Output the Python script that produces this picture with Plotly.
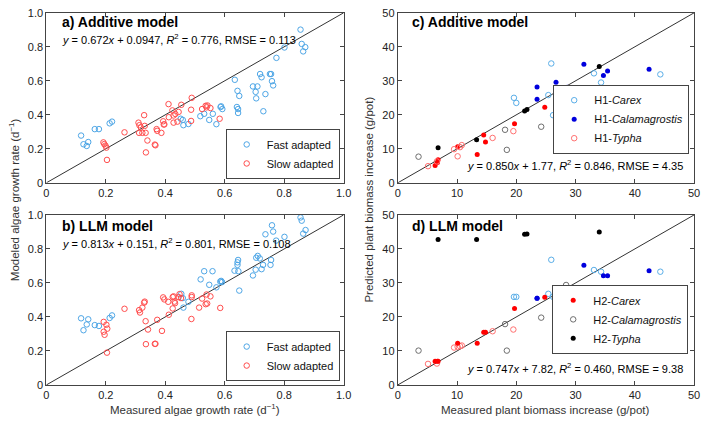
import plotly.graph_objects as go

# ---------------- Data: panels a/b (algae growth rate, d^-1) ----------------
a_fast_x = [0.117, 0.125, 0.136, 0.141, 0.163, 0.177, 0.213, 0.221, 0.452, 0.459, 0.461, 0.478,
            0.518, 0.531, 0.548, 0.560, 0.572, 0.586, 0.588, 0.592, 0.634, 0.643, 0.649, 0.641,
            0.645, 0.645, 0.695, 0.710, 0.704, 0.706, 0.719, 0.724, 0.730, 0.737, 0.752, 0.756,
            0.759, 0.763, 0.774, 0.801, 0.855, 0.859, 0.864, 0.871]
a_fast_y = [0.278, 0.227, 0.217, 0.240, 0.316, 0.316, 0.350, 0.360, 0.377, 0.370, 0.339, 0.346,
            0.392, 0.406, 0.370, 0.406, 0.345, 0.446, 0.450, 0.434, 0.606, 0.541, 0.511, 0.446,
            0.434, 0.411, 0.567, 0.567, 0.535, 0.497, 0.640, 0.621, 0.421, 0.522, 0.640, 0.640,
            0.598, 0.573, 0.735, 0.796, 0.901, 0.817, 0.773, 0.798]
a_slow_x = [0.192, 0.195, 0.199, 0.202, 0.204, 0.263, 0.310, 0.313, 0.318, 0.312, 0.323, 0.329,
            0.331, 0.334, 0.335, 0.340, 0.365, 0.367, 0.371, 0.373, 0.387, 0.393, 0.395, 0.397,
            0.411, 0.412, 0.424, 0.428, 0.428, 0.434, 0.441, 0.445, 0.454, 0.487, 0.489, 0.487,
            0.524, 0.536, 0.539, 0.542, 0.552, 0.583]
a_slow_y = [0.238, 0.228, 0.219, 0.207, 0.135, 0.297, 0.354, 0.339, 0.326, 0.294, 0.294, 0.398,
            0.335, 0.294, 0.179, 0.249, 0.225, 0.221, 0.316, 0.306, 0.294, 0.362, 0.343, 0.344,
            0.463, 0.386, 0.426, 0.396, 0.354, 0.405, 0.360, 0.417, 0.459, 0.430, 0.500, 0.364,
            0.434, 0.453, 0.444, 0.455, 0.440, 0.377]

b_fast_x = [0.117, 0.125, 0.136, 0.141, 0.163, 0.177, 0.213, 0.221, 0.454, 0.459, 0.461, 0.478,
            0.519, 0.531, 0.548, 0.559, 0.572, 0.585, 0.588, 0.591, 0.633, 0.643, 0.643, 0.645,
            0.646, 0.649, 0.695, 0.704, 0.706, 0.711, 0.718, 0.724, 0.729, 0.737, 0.754, 0.756,
            0.759, 0.763, 0.773, 0.801, 0.855, 0.859, 0.864, 0.872]
b_fast_y = [0.392, 0.322, 0.356, 0.386, 0.352, 0.347, 0.394, 0.409, 0.536, 0.511, 0.455, 0.489,
            0.621, 0.669, 0.589, 0.669, 0.574, 0.608, 0.612, 0.605, 0.672, 0.706, 0.721, 0.735,
            0.669, 0.555, 0.644, 0.678, 0.748, 0.759, 0.744, 0.681, 0.706, 0.886, 0.706, 0.735,
            0.939, 0.902, 0.849, 0.871, 0.985, 0.966, 0.890, 0.911]
b_slow_x = [0.193, 0.202, 0.205, 0.193, 0.196, 0.204, 0.263, 0.312, 0.315, 0.323, 0.329, 0.331,
            0.334, 0.342, 0.335, 0.365, 0.367, 0.373, 0.389, 0.393, 0.397, 0.412, 0.410, 0.425,
            0.425, 0.428, 0.431, 0.433, 0.445, 0.448, 0.453, 0.489, 0.489, 0.488, 0.514, 0.524,
            0.539, 0.536, 0.541, 0.552, 0.585]
b_slow_y = [0.371, 0.354, 0.331, 0.313, 0.295, 0.190, 0.448, 0.440, 0.426, 0.455, 0.484, 0.490,
            0.375, 0.326, 0.240, 0.242, 0.242, 0.383, 0.318, 0.515, 0.503, 0.413, 0.489, 0.517,
            0.450, 0.521, 0.490, 0.481, 0.517, 0.534, 0.511, 0.517, 0.527, 0.388, 0.455, 0.508,
            0.532, 0.475, 0.479, 0.521, 0.453]

# ---------------- Data: panels c/d (plant biomass increase, g/pot) ----------------
h1_carex_x = [19.6, 20.0, 25.4, 25.9, 26.2, 33.1, 34.3, 34.6, 44.3]
h1_carex_c = [25.0, 23.5, 25.8, 35.1, 19.9, 32.2, 29.5, 24.0, 31.9]
h1_carex_d = [25.9, 25.9, 26.8, 36.8, 25.9, 33.8, 33.3, 26.8, 33.3]

h1_calam_x = [23.5, 23.5, 26.7, 28.6, 31.4, 31.5, 34.7, 35.4, 42.4]
h1_calam_c = [28.2, 24.6, 29.6, 28.1, 34.9, 27.3, 31.6, 32.9, 33.4]
h1_calam_d = [25.5, 25.5, 28.5, 28.5, 35.2, 25.5, 32.1, 32.1, 33.6]

h1_typha_x = [5.1, 6.6, 9.5, 10.1, 10.5, 10.8, 16.0, 19.5]
h1_typha_c = [4.9, 6.3, 9.9, 7.8, 10.5, 11.1, 13.2, 15.2]
h1_typha_d = [6.2, 6.3, 11.0, 11.2, 11.4, 11.6, 15.8, 16.3]

h2_carex_x = [6.3, 6.7, 6.8, 10.1, 13.4, 14.5, 14.8, 19.7, 24.8]
h2_carex_c = [5.1, 6.0, 6.8, 10.6, 8.3, 14.1, 12.0, 17.4, 22.2]
h2_carex_d = [7.0, 7.0, 7.0, 12.3, 12.3, 15.5, 15.5, 22.5, 25.8]

h2_calam_x = [3.5, 18.1, 18.4, 24.2, 28.4]
h2_calam_c = [7.7, 15.6, 9.7, 16.5, 26.8]
h2_calam_d = [10.1, 17.9, 10.1, 19.8, 29.4]

h2_typha_x = [6.8, 13.3, 21.4, 21.8, 34.0]
h2_typha_c = [10.3, 12.7, 21.1, 21.6, 34.2]
h2_typha_d = [42.8, 42.8, 44.3, 44.4, 45.0]

ab_ticks = [0, 0.2, 0.4, 0.6, 0.8, 1.0]
ab_ticktext = ["0", "0.2", "0.4", "0.6", "0.8", "1.0"]
cd_ticks = [0, 10, 20, 30, 40, 50]

# ---------------- Styles ----------------
FONT = "Liberation Sans, Arial, Helvetica, sans-serif"
C_FAST = "#4ea6e6"
C_SLOW = "#ff4d4d"
C_LBLUE = "#5aaee8"
C_BLUE = "#0000dd"
C_LRED = "#ff7070"
C_RED = "#ff0000"
C_GRAY = "#6e6e6e"
C_BLACK = "#000000"

fig = go.Figure()


def open_pts(x, y, color, name, xa, ya, legend=None, size=5.5):
    fig.add_trace(go.Scatter(
        x=x, y=y, mode="markers", name=name, xaxis=xa, yaxis=ya,
        marker=dict(symbol="circle-open", size=size, color=color, line=dict(width=1, color=color)),
        showlegend=legend is not None, legend=legend if legend else "legend"))


def filled_pts(x, y, color, name, xa, ya, legend=None, size=5):
    fig.add_trace(go.Scatter(
        x=x, y=y, mode="markers", name=name, xaxis=xa, yaxis=ya,
        marker=dict(symbol="circle", size=size, color=color, line=dict(width=0)),
        showlegend=legend is not None, legend=legend if legend else "legend"))


def one_to_one(lim, xa, ya):
    fig.add_trace(go.Scatter(x=[0, lim], y=[0, lim], mode="lines", xaxis=xa, yaxis=ya,
                             line=dict(color="#333333", width=1), showlegend=False, hoverinfo="skip"))


# Panel a
one_to_one(1, "x", "y")
open_pts(a_fast_x, a_fast_y, C_FAST, "Fast adapted", "x", "y", "legend")
open_pts(a_slow_x, a_slow_y, C_SLOW, "Slow adapted", "x", "y", "legend")
# Panel b
one_to_one(1, "x2", "y2")
open_pts(b_fast_x, b_fast_y, C_FAST, "Fast adapted", "x2", "y2", "legend2")
open_pts(b_slow_x, b_slow_y, C_SLOW, "Slow adapted", "x2", "y2", "legend2")
# Panel c
one_to_one(50, "x3", "y3")
open_pts(h2_calam_x, h2_calam_c, C_GRAY, "H2-<i>Calamagrostis</i>", "x3", "y3")
filled_pts(h2_typha_x, h2_typha_c, C_BLACK, "H2-<i>Typha</i>", "x3", "y3")
filled_pts(h2_carex_x, h2_carex_c, C_RED, "H2-<i>Carex</i>", "x3", "y3")
open_pts(h1_carex_x, h1_carex_c, C_LBLUE, "H1-<i>Carex</i>", "x3", "y3", "legend3")
filled_pts(h1_calam_x, h1_calam_c, C_BLUE, "H1-<i>Calamagrostis</i>", "x3", "y3", "legend3")
open_pts(h1_typha_x, h1_typha_c, C_LRED, "H1-<i>Typha</i>", "x3", "y3", "legend3")
# Panel d
one_to_one(50, "x4", "y4")
open_pts(h1_carex_x, h1_carex_d, C_LBLUE, "H1-<i>Carex</i>", "x4", "y4")
filled_pts(h1_calam_x, h1_calam_d, C_BLUE, "H1-<i>Calamagrostis</i>", "x4", "y4")
open_pts(h1_typha_x, h1_typha_d, C_LRED, "H1-<i>Typha</i>", "x4", "y4")
filled_pts(h2_carex_x, h2_carex_d, C_RED, "H2-<i>Carex</i>", "x4", "y4", "legend4")
open_pts(h2_calam_x, h2_calam_d, C_GRAY, "H2-<i>Calamagrostis</i>", "x4", "y4", "legend4")
filled_pts(h2_typha_x, h2_typha_d, C_BLACK, "H2-<i>Typha</i>", "x4", "y4", "legend4")

W, H = 709, 424


def px_x(p):
    return p / W


def px_y(p):
    return 1 - p / H


def axis(domain, anchor, ticks, ticktext, rng):
    return dict(domain=domain, anchor=anchor, range=rng, tickvals=ticks, ticktext=ticktext,
                ticks="inside", ticklen=4, tickcolor="#444", tickwidth=1,
                showline=True, linecolor="#444", linewidth=1, mirror="ticks",
                showgrid=False, zeroline=False,
                tickfont=dict(family=FONT, size=11, color="#222"))


xa_dom = [px_x(44), px_x(346)]
xc_dom = [px_x(401), px_x(702)]
ytop_dom = [px_y(182), px_y(7)]
ybot_dom = [px_y(390), px_y(215)]

cd_text = [str(t) for t in cd_ticks]

legend_style = dict(bgcolor="white", bordercolor="#444", borderwidth=1,
                    font=dict(family=FONT, size=11, color="#111"),
                    xanchor="right", yanchor="bottom", tracegroupgap=0,
                    itemwidth=30)

fig.update_layout(
    width=W, height=H, margin=dict(l=0, r=0, t=0, b=0),
    paper_bgcolor="white", plot_bgcolor="white",
    font=dict(family=FONT, color="#222"),
    xaxis=axis(xa_dom, "y", ab_ticks, ab_ticktext, [0, 1]),
    yaxis=axis(ytop_dom, "x", ab_ticks, ab_ticktext, [0, 1]),
    xaxis2=axis(xa_dom, "y2", ab_ticks, ab_ticktext, [0, 1]),
    yaxis2=axis(ybot_dom, "x2", ab_ticks, ab_ticktext, [0, 1]),
    xaxis3=axis(xc_dom, "y3", cd_ticks, cd_text, [0, 50]),
    yaxis3=axis(ytop_dom, "x3", cd_ticks, cd_text, [0, 50]),
    xaxis4=axis(xc_dom, "y4", cd_ticks, cd_text, [0, 50]),
    yaxis4=axis(ybot_dom, "x4", cd_ticks, cd_text, [0, 50]),
    legend=dict(x=px_x(342), y=px_y(178), **legend_style),
    legend2=dict(x=px_x(342), y=px_y(386), **legend_style),
    legend3=dict(x=px_x(697), y=px_y(152), **legend_style),
    legend4=dict(x=px_x(696), y=px_y(358), **legend_style),
)

ann = []


def title(text, xref, yref, x, y):
    ann.append(dict(text=f"<b>{text}</b>", xref=xref, yref=yref, x=x, y=y, xanchor="left",
                    yanchor="middle", showarrow=False, font=dict(family=FONT, size=14, color="#000")))


def eq(text, xref, yref, x, y, anchor):
    ann.append(dict(text=text, xref=xref, yref=yref, x=x, y=y, xanchor=anchor,
                    yanchor="middle", showarrow=False, font=dict(family=FONT, size=11, color="#000")))


title("a) Additive model", "x domain", "y domain", 0.045, 0.943)
eq("<i>y</i> = 0.672<i>x</i> + 0.0947, <i>R</i><sup>2</sup> = 0.776, RMSE = 0.113",
   "x domain", "y domain", 0.045, 0.846, "left")
title("b) LLM model", "x2 domain", "y2 domain", 0.045, 0.9375)
eq("<i>y</i> = 0.813<i>x</i> + 0.151, <i>R</i><sup>2</sup> = 0.801, RMSE = 0.108",
   "x2 domain", "y2 domain", 0.045, 0.835, "left")
title("c) Additive model", "x3 domain", "y3 domain", 0.04, 0.943)
eq("<i>y</i> = 0.850<i>x</i> + 1.77, <i>R</i><sup>2</sup> = 0.846, RMSE = 4.35",
   "x3 domain", "y3 domain", 0.97, 0.103, "right")
title("d) LLM model", "x4 domain", "y4 domain", 0.04, 0.932)
eq("<i>y</i> = 0.747<i>x</i> + 7.82, <i>R</i><sup>2</sup> = 0.460, RMSE = 9.38",
   "x4 domain", "y4 domain", 0.97, 0.102, "right")

# axis titles
axis_title_font = dict(family=FONT, size=11.5, color="#333")
ann.append(dict(text="Modeled algae growth rate (d<sup>−1</sup>)", xref="paper", yref="paper",
                x=px_x(12), y=px_y(199), textangle=-90, showarrow=False,
                xanchor="center", yanchor="middle", font=axis_title_font))
ann.append(dict(text="Predicted plant biomass increase (g/pot)", xref="paper", yref="paper",
                x=px_x(372), y=px_y(199), textangle=-90, showarrow=False,
                xanchor="center", yanchor="middle", font=axis_title_font))
ann.append(dict(text="Measured algae growth rate (d<sup>−1</sup>)", xref="paper", yref="paper",
                x=px_x(195), y=px_y(424), showarrow=False,
                xanchor="center", yanchor="bottom", font=axis_title_font))
ann.append(dict(text="Measured plant biomass increase (g/pot)", xref="paper", yref="paper",
                x=px_x(551), y=px_y(424), showarrow=False,
                xanchor="center", yanchor="bottom", font=axis_title_font))

fig.update_layout(annotations=ann)
fig.write_html("out.html",
               config={"displayModeBar": False},
               post_script="document.body.style.margin='0';document.body.style.overflow='hidden';")
